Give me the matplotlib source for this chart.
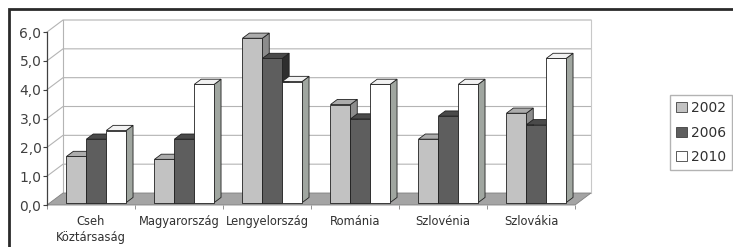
import matplotlib
matplotlib.use("Agg")
import matplotlib.pyplot as plt
from matplotlib.patches import Polygon, Patch, Rectangle

# data
countries = ["Cseh\nKöztársaság", "Magyarország", "Lengyelország",
             "Románia", "Szlovénia", "Szlovákia"]
years = ["2002", "2006", "2010"]
v2002 = [1.6, 1.5, 5.7, 3.4, 2.2, 3.1]
v2006 = [2.2, 2.2, 5.0, 2.9, 3.0, 2.7]
v2010 = [2.5, 4.1, 4.2, 4.1, 4.1, 5.0]
yticks = [0, 1, 2, 3, 4, 5, 6]
ytick_labels = ["0,0", "1,0", "2,0", "3,0", "4,0", "5,0", "6,0"]

# front / top / side shades for each series
front_cols = ["#c2c2c2", "#5e5e5e", "#ffffff"]
top_cols = ["#acacac", "#4a4a4a", "#f2f2f2"]
side_cols = ["#8c8c8c", "#2e2e2e", "#a0a6a0"]

# oblique 3d offset of the full wall depth (x in groups, y in value units)
DX, DY = 0.182, 0.416
F0, F1 = 0.2, 0.63          # bar depth range as fraction of wall depth
OFF, BW = 0.185, 0.226      # bar offset inside group, bar width

fig = plt.figure(figsize=(7.33, 2.47), dpi=100)
ax = fig.add_axes([47 / 733, 42 / 247, 528 / 733, 173 / 247])
ax.set_xlim(0, 6)
ax.set_ylim(0, 6)
n = len(countries)

# floor
ax.add_patch(Polygon([(0, 0), (n, 0), (n + DX, DY), (DX, DY)], closed=True,
                     facecolor="#a4a4a4", edgecolor="#808080", lw=0.6,
                     zorder=1, clip_on=False))
# gridlines on side wall and back wall
for v in yticks[1:]:
    ax.plot([0, DX, n + DX], [v, v + DY, v + DY], color="#b4b4b4", lw=0.8,
            zorder=0.5, clip_on=False)
ax.plot([DX, DX], [DY, 6 + DY], color="#b4b4b4", lw=0.8, zorder=0.5, clip_on=False)
ax.plot([n + DX, n + DX], [DY, 6 + DY], color="#c8c8c8", lw=0.8, zorder=0.5, clip_on=False)


def draw_bar(x0, val, k, z):
    # front face sits at depth F0, back at F1
    ox0, oy0 = F0 * DX, F0 * DY
    ox1, oy1 = F1 * DX, F1 * DY
    xl, xr = x0 + ox0, x0 + BW + ox0
    b, t = oy0, val + oy0
    d = dict(edgecolor="#202020", lw=0.6, zorder=z, clip_on=False)
    ax.add_patch(Polygon([(xr, b), (xr + ox1 - ox0, b + oy1 - oy0),
                          (xr + ox1 - ox0, t + oy1 - oy0), (xr, t)],
                         facecolor=side_cols[k], **d))
    ax.add_patch(Polygon([(xl, t), (xr, t), (xr + ox1 - ox0, t + oy1 - oy0),
                          (xl + ox1 - ox0, t + oy1 - oy0)],
                         facecolor=top_cols[k], **d))
    ax.add_patch(Polygon([(xl, b), (xr, b), (xr, t), (xl, t)],
                         facecolor=front_cols[k], **d))


z = 2
for i in range(n):
    for k, vals in enumerate([v2002, v2006, v2010]):
        draw_bar(i + OFF + k * BW, vals[i], k, z)
        z += 1

# axes styling
for s in ["top", "right", "bottom"]:
    ax.spines[s].set_visible(False)
ax.spines["left"].set_color("#404040")
ax.spines["left"].set_linewidth(0.9)
ax.set_yticks(yticks)
ax.set_yticklabels(ytick_labels, fontsize=10, color="#404040")
ax.tick_params(axis="y", length=3, width=0.8, color="#404040", pad=1)
ax.set_xticks(range(n + 1))
ax.set_xticklabels([""] * (n + 1))
ax.tick_params(axis="x", length=3, width=0.6, color="#808080")
ax.set_xticks([i + 0.5 for i in range(n)], minor=True)
ax.set_xticklabels(countries, minor=True, fontsize=8.3, color="#303030",
                   linespacing=1.35)
ax.tick_params(axis="x", which="minor", length=0, pad=7)
ax.patch.set_visible(False)

# legend
handles = [Patch(facecolor=front_cols[k], edgecolor="#404040", lw=0.6)
           for k in range(3)]
leg = fig.legend(handles, years, loc="upper left",
                 bbox_to_anchor=(670 / 733, 1 - 95 / 247), fontsize=10,
                 frameon=True, fancybox=False, edgecolor="#a0a0a0",
                 handlelength=0.75, handleheight=0.75, handletextpad=0.3,
                 labelspacing=0.75, borderpad=0.45, borderaxespad=0)
for t in leg.get_texts():
    t.set_color("#303030")

# outer chart frame (cut by the image edge on right and bottom)
fig.add_artist(Rectangle((9 / 733, -0.2), 1.2, 1 - 9.5 / 247 + 0.2,
                         transform=fig.transFigure, fill=False,
                         edgecolor="#2a2a2a", lw=2.0))

fig.savefig("out.png", dpi=100)
